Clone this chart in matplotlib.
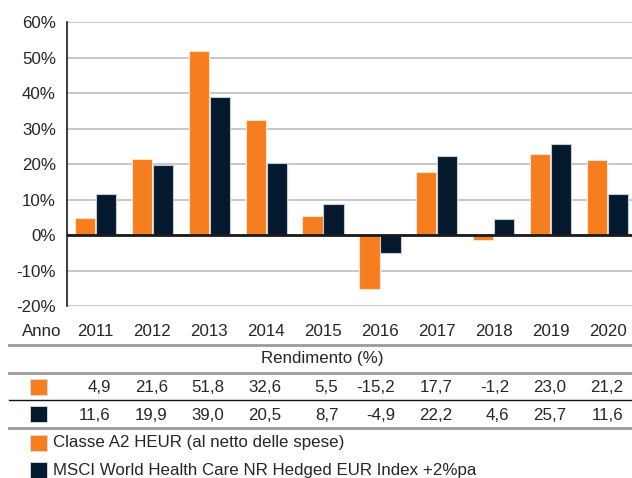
import matplotlib
matplotlib.use("Agg")
import matplotlib.pyplot as plt
from matplotlib.lines import Line2D
from matplotlib.transforms import blended_transform_factory
import numpy as np

plt.rcParams["font.family"] = ["Liberation Sans", "DejaVu Sans"]

years = ["2011", "2012", "2013", "2014", "2015", "2016", "2017", "2018", "2019", "2020"]
classe_a2 = [4.9, 21.6, 51.8, 32.6, 5.5, -15.2, 17.7, -1.2, 23.0, 21.2]
msci_idx = [11.6, 19.9, 39.0, 20.5, 8.7, -4.9, 22.2, 4.6, 25.7, 11.6]
yticks = [-20, -10, 0, 10, 20, 30, 40, 50, 60]
series_names = ["Classe A2 HEUR (al netto delle spese)",
                "MSCI World Health Care NR Hedged EUR Index +2%pa"]

ORANGE = "#f47e20"
NAVY = "#04182e"
TXT = "#262626"
FS = 12.2
W, H = 632, 478


def fy(py):
    # pixel riga -> frazione figura
    return 1 - py / H


fig = plt.figure(figsize=(W / 100, H / 100), dpi=100)
ax = fig.add_axes([67 / W, fy(306.3), 569 / W, 284 / H])

x = np.arange(len(years))
ax.bar(x - 0.185, classe_a2, width=0.355, color=ORANGE, edgecolor="#fde3cc", linewidth=0.8, zorder=3)
ax.bar(x + 0.185, msci_idx, width=0.355, color=NAVY, edgecolor="#c8ccd2", linewidth=0.8, zorder=3)

ax.set_xlim(-0.5, len(years) - 0.5)
ax.set_ylim(-20, 60)
ax.set_yticks(yticks)
ax.set_yticklabels([f"{v}%" for v in yticks], fontsize=FS, color=TXT)
ax.tick_params(axis="y", length=0, pad=8)
ax.set_xticks([])
ax.grid(axis="y", color="#c4c4c4", linewidth=1.3, zorder=0)
ax.axhline(0, color="#1a1a1a", linewidth=2, zorder=4)
for s in ["top", "right", "bottom"]:
    ax.spines[s].set_visible(False)
ax.spines["left"].set_color("#1a1a1a")
ax.spines["left"].set_linewidth(1.2)

# tabella sotto il grafico
tr = blended_transform_factory(ax.transData, fig.transFigure)
fig.text(42 / W, fy(332), "Anno", ha="center", va="center", fontsize=FS, color=TXT)
for i, yr in enumerate(years):
    ax.text(i, fy(332), yr, transform=tr, ha="center", va="center", fontsize=FS, color=TXT, clip_on=False)
    ax.text(i + 0.27, fy(387), f"{classe_a2[i]:.1f}".replace(".", ","), transform=tr,
            ha="right", va="center", fontsize=FS, color=TXT, clip_on=False)
    ax.text(i + 0.27, fy(415), f"{msci_idx[i]:.1f}".replace(".", ","), transform=tr,
            ha="right", va="center", fontsize=FS, color=TXT, clip_on=False)

fig.text(322 / W, fy(358), "Rendimento (%)", ha="center", va="center", fontsize=FS, color=TXT)

for py, col, lw in [(345, "#9a9a9a", 2), (373, "#9a9a9a", 2), (400, "#111111", 1), (428, "#9a9a9a", 2)]:
    fig.add_artist(Line2D([9 / W, 1], [fy(py), fy(py)], transform=fig.transFigure, color=col, linewidth=lw))

# quadratini
for cy, col in [(386.5, ORANGE), (414, NAVY), (442.5, ORANGE), (470, NAVY)]:
    fig.add_artist(plt.Rectangle((30 / W, fy(cy + 8)), 17 / W, 16 / H, transform=fig.transFigure,
                                 facecolor=col, edgecolor="#dddddd", linewidth=0.6))

fig.text(53 / W, fy(443), series_names[0], ha="left", va="center", fontsize=FS, color=TXT)
fig.text(53 / W, fy(470), series_names[1], ha="left", va="center", fontsize=FS, color=TXT)

fig.savefig("out.png", dpi=100)
